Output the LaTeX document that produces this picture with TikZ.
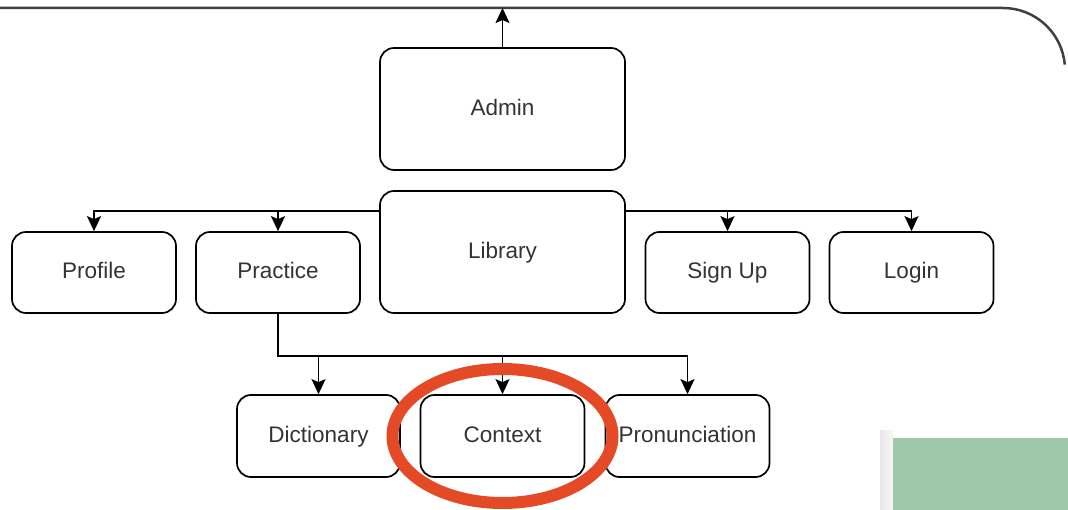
\documentclass[tikz,border=0pt]{standalone}
\usepackage{fontspec}
\setmainfont{Liberation Sans}
\usetikzlibrary{arrows.meta}

\definecolor{markred}{HTML}{E44A26}
\definecolor{panelgreen}{HTML}{9FC7AA}
\definecolor{labelgray}{HTML}{333333}

\tikzset{
  page/.style={draw, rounded corners=14pt, line width=1.7pt, text=labelgray,
    font=\fontsize{22.5}{27}\selectfont, inner sep=1pt,
    text height=16pt, text depth=3pt},
  bigpage/.style={page, minimum width=245pt, minimum height=122pt},
  smallpage/.style={page, minimum width=164pt, minimum height=81pt},
  link/.style={line width=1.8pt, -{Stealth[length=15pt,width=14pt,inset=3pt]}}
}

\begin{document}
\begin{tikzpicture}[x=1pt,y=-1pt]
  \useasboundingbox (0,0) rectangle (1068,510);
  \clip (0,0) rectangle (1068,510);

  % frame line along the top
  \draw[line width=2.5pt, black!75] (0,8) -- (1003,8)
    arc[start angle=-90, end angle=-5, radius=62];
  \coordinate (top) at (502.5,8);

  % pages
  \node[bigpage] (admin) at (502.5,109) {Admin};
  \node[bigpage] (library) at (502.5,252) {Library};
  \node[smallpage] (profile) at (94,272.5) {Profile};
  \node[smallpage] (practice) at (278,272.5) {Practice};
  \node[smallpage] (signup) at (727.5,272.5) {Sign Up};
  \node[smallpage] (login) at (911.5,272.5) {Login};
  \node[smallpage, minimum width=163pt, minimum height=82pt] (dictionary) at (318.5,436) {Dictionary};
  \node[smallpage, minimum height=82pt] (context) at (502.5,436) {Context};
  \node[smallpage, minimum height=82pt] (pronunciation) at (687.5,436) {Pronunciation};

  % links
  \draw[link] (admin) -- (top);
  \foreach \p in {profile,practice}
    \draw[link] ([yshift=-21pt]library.north west) -| (\p);
  \foreach \p in {signup,login}
    \draw[link] ([yshift=-21pt]library.north east) -| (\p);
  \coordinate (bus) at ([yshift=-42pt]practice.south);
  \draw[link] (practice) -- (bus) -| (pronunciation);
  \foreach \p in {dictionary,context}
    \draw[link] (bus -| \p) -- (\p);

  % highlight
  \draw[markred, line width=12pt] (context.center) ellipse [x radius=110, y radius=67];

  % panel in the corner
  \shade[left color=black!9, right color=black!3] (880,430) rectangle (893,510);
  \fill[panelgreen] (893,438) rectangle (1068,510);
\end{tikzpicture}
\end{document}
